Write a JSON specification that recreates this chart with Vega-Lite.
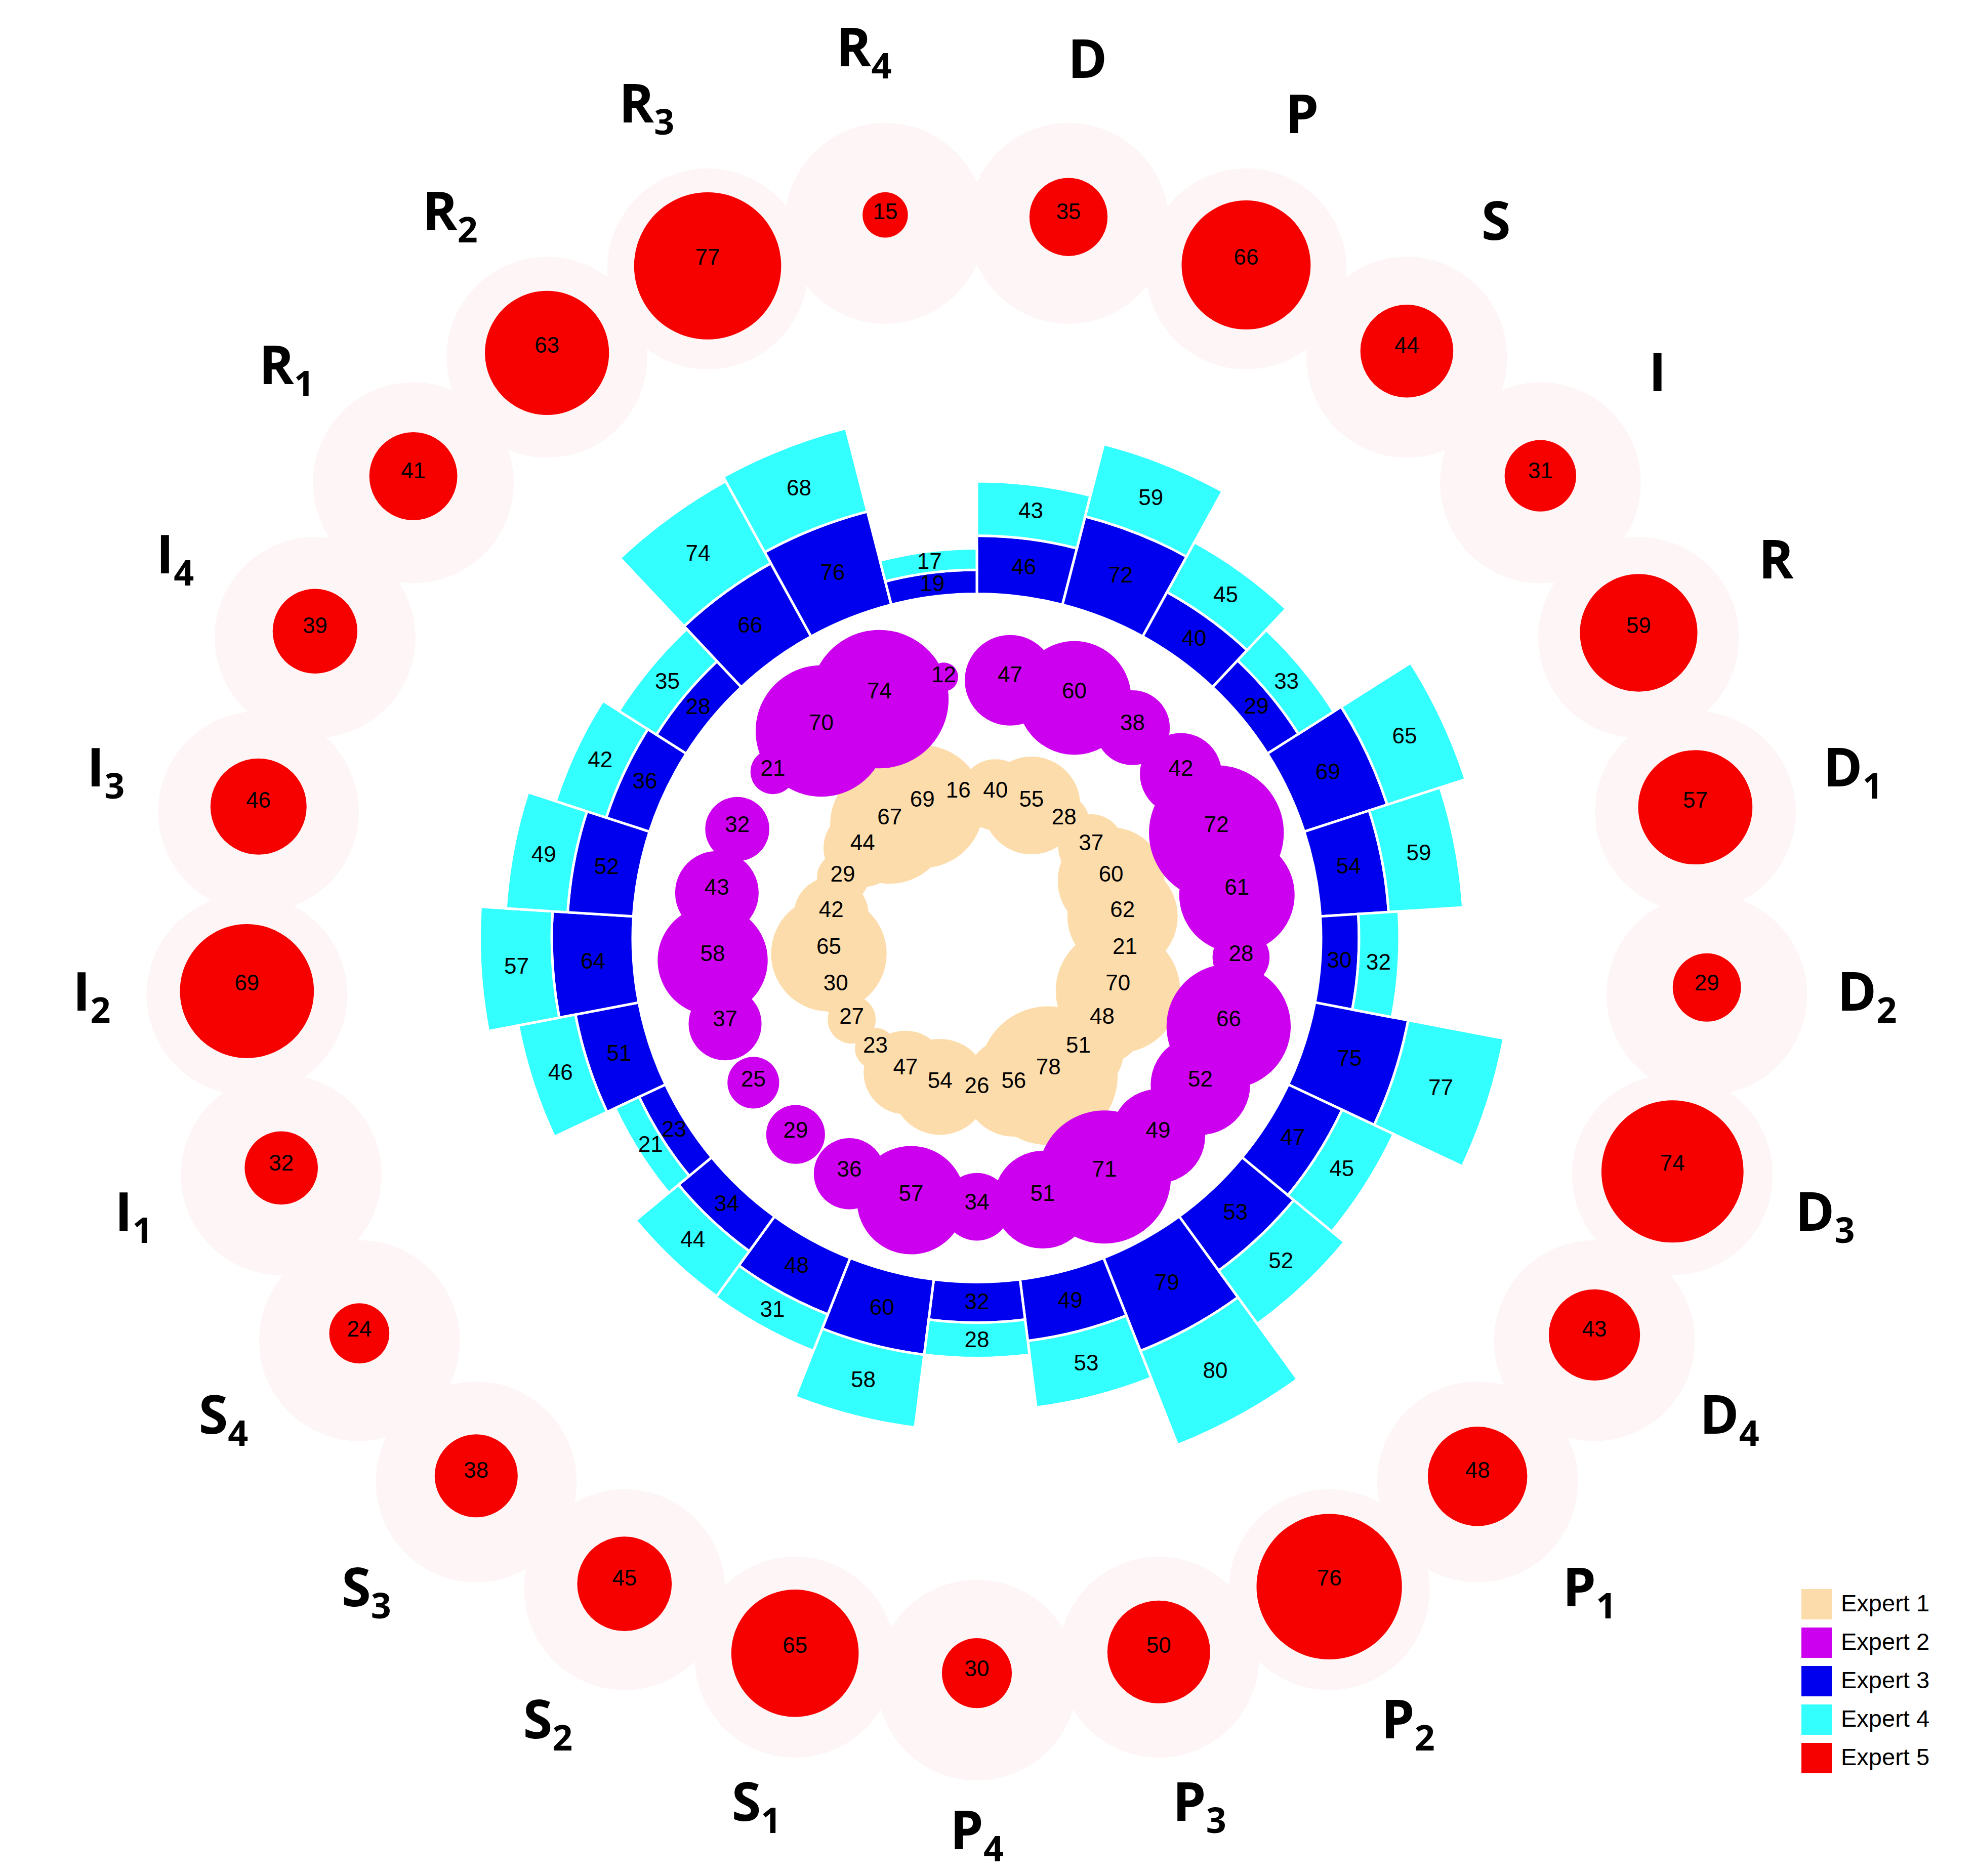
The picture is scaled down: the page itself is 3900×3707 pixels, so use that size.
{
  "$schema": "https://vega.github.io/schema/vega-lite/v6.json",
  "width": 3860,
  "height": 3707,
  "autosize": "none",
  "padding": 0,
  "background": "white",
  "config": {
    "view": {"stroke": null},
    "legend": {"orient": "none", "legendX": 3559, "legendY": 3140, "symbolType": "square", "symbolSize": 3600, "symbolStrokeWidth": 0, "symbolOpacity": 1, "labelFontSize": 47, "labelFont": "Liberation Sans", "labelColor": "black", "labelLimit": 0, "rowPadding": 16, "padding": 0, "labelOffset": 18}
  },
  "datasets": {
    "cats": [
      {"cat": "D", "letter": "D", "sub": ""}, {"cat": "P", "letter": "P", "sub": ""}, {"cat": "S", "letter": "S", "sub": ""}, {"cat": "I", "letter": "I", "sub": ""}, {"cat": "R", "letter": "R", "sub": ""},
      {"cat": "D1", "letter": "D", "sub": "1"}, {"cat": "D2", "letter": "D", "sub": "2"}, {"cat": "D3", "letter": "D", "sub": "3"}, {"cat": "D4", "letter": "D", "sub": "4"},
      {"cat": "P1", "letter": "P", "sub": "1"}, {"cat": "P2", "letter": "P", "sub": "2"}, {"cat": "P3", "letter": "P", "sub": "3"}, {"cat": "P4", "letter": "P", "sub": "4"},
      {"cat": "S1", "letter": "S", "sub": "1"}, {"cat": "S2", "letter": "S", "sub": "2"}, {"cat": "S3", "letter": "S", "sub": "3"}, {"cat": "S4", "letter": "S", "sub": "4"},
      {"cat": "I1", "letter": "I", "sub": "1"}, {"cat": "I2", "letter": "I", "sub": "2"}, {"cat": "I3", "letter": "I", "sub": "3"}, {"cat": "I4", "letter": "I", "sub": "4"},
      {"cat": "R1", "letter": "R", "sub": "1"}, {"cat": "R2", "letter": "R", "sub": "2"}, {"cat": "R3", "letter": "R", "sub": "3"}, {"cat": "R4", "letter": "R", "sub": "4"}
    ],
    "vals": [
      {"cat": "D", "expert": "Expert 1", "value": 40}, {"cat": "P", "expert": "Expert 1", "value": 55}, {"cat": "S", "expert": "Expert 1", "value": 28}, {"cat": "I", "expert": "Expert 1", "value": 37}, {"cat": "R", "expert": "Expert 1", "value": 60},
      {"cat": "D1", "expert": "Expert 1", "value": 62}, {"cat": "D2", "expert": "Expert 1", "value": 21}, {"cat": "D3", "expert": "Expert 1", "value": 70}, {"cat": "D4", "expert": "Expert 1", "value": 48},
      {"cat": "P1", "expert": "Expert 1", "value": 51}, {"cat": "P2", "expert": "Expert 1", "value": 78}, {"cat": "P3", "expert": "Expert 1", "value": 56}, {"cat": "P4", "expert": "Expert 1", "value": 26},
      {"cat": "S1", "expert": "Expert 1", "value": 54}, {"cat": "S2", "expert": "Expert 1", "value": 47}, {"cat": "S3", "expert": "Expert 1", "value": 23}, {"cat": "S4", "expert": "Expert 1", "value": 27},
      {"cat": "I1", "expert": "Expert 1", "value": 30}, {"cat": "I2", "expert": "Expert 1", "value": 65}, {"cat": "I3", "expert": "Expert 1", "value": 42}, {"cat": "I4", "expert": "Expert 1", "value": 29},
      {"cat": "R1", "expert": "Expert 1", "value": 44}, {"cat": "R2", "expert": "Expert 1", "value": 67}, {"cat": "R3", "expert": "Expert 1", "value": 69}, {"cat": "R4", "expert": "Expert 1", "value": 16},

      {"cat": "D", "expert": "Expert 2", "value": 47}, {"cat": "P", "expert": "Expert 2", "value": 60}, {"cat": "S", "expert": "Expert 2", "value": 38}, {"cat": "I", "expert": "Expert 2", "value": 42}, {"cat": "R", "expert": "Expert 2", "value": 72},
      {"cat": "D1", "expert": "Expert 2", "value": 61}, {"cat": "D2", "expert": "Expert 2", "value": 28}, {"cat": "D3", "expert": "Expert 2", "value": 66}, {"cat": "D4", "expert": "Expert 2", "value": 52},
      {"cat": "P1", "expert": "Expert 2", "value": 49}, {"cat": "P2", "expert": "Expert 2", "value": 71}, {"cat": "P3", "expert": "Expert 2", "value": 51}, {"cat": "P4", "expert": "Expert 2", "value": 34},
      {"cat": "S1", "expert": "Expert 2", "value": 57}, {"cat": "S2", "expert": "Expert 2", "value": 36}, {"cat": "S3", "expert": "Expert 2", "value": 29}, {"cat": "S4", "expert": "Expert 2", "value": 25},
      {"cat": "I1", "expert": "Expert 2", "value": 37}, {"cat": "I2", "expert": "Expert 2", "value": 58}, {"cat": "I3", "expert": "Expert 2", "value": 43}, {"cat": "I4", "expert": "Expert 2", "value": 32},
      {"cat": "R1", "expert": "Expert 2", "value": 21}, {"cat": "R2", "expert": "Expert 2", "value": 70}, {"cat": "R3", "expert": "Expert 2", "value": 74}, {"cat": "R4", "expert": "Expert 2", "value": 12},

      {"cat": "D", "expert": "Expert 3", "value": 46}, {"cat": "P", "expert": "Expert 3", "value": 72}, {"cat": "S", "expert": "Expert 3", "value": 40}, {"cat": "I", "expert": "Expert 3", "value": 29}, {"cat": "R", "expert": "Expert 3", "value": 69},
      {"cat": "D1", "expert": "Expert 3", "value": 54}, {"cat": "D2", "expert": "Expert 3", "value": 30}, {"cat": "D3", "expert": "Expert 3", "value": 75}, {"cat": "D4", "expert": "Expert 3", "value": 47},
      {"cat": "P1", "expert": "Expert 3", "value": 53}, {"cat": "P2", "expert": "Expert 3", "value": 79}, {"cat": "P3", "expert": "Expert 3", "value": 49}, {"cat": "P4", "expert": "Expert 3", "value": 32},
      {"cat": "S1", "expert": "Expert 3", "value": 60}, {"cat": "S2", "expert": "Expert 3", "value": 48}, {"cat": "S3", "expert": "Expert 3", "value": 34}, {"cat": "S4", "expert": "Expert 3", "value": 23},
      {"cat": "I1", "expert": "Expert 3", "value": 51}, {"cat": "I2", "expert": "Expert 3", "value": 64}, {"cat": "I3", "expert": "Expert 3", "value": 52}, {"cat": "I4", "expert": "Expert 3", "value": 36},
      {"cat": "R1", "expert": "Expert 3", "value": 28}, {"cat": "R2", "expert": "Expert 3", "value": 66}, {"cat": "R3", "expert": "Expert 3", "value": 76}, {"cat": "R4", "expert": "Expert 3", "value": 19},

      {"cat": "D", "expert": "Expert 4", "value": 43}, {"cat": "P", "expert": "Expert 4", "value": 59}, {"cat": "S", "expert": "Expert 4", "value": 45}, {"cat": "I", "expert": "Expert 4", "value": 33}, {"cat": "R", "expert": "Expert 4", "value": 65},
      {"cat": "D1", "expert": "Expert 4", "value": 59}, {"cat": "D2", "expert": "Expert 4", "value": 32}, {"cat": "D3", "expert": "Expert 4", "value": 77}, {"cat": "D4", "expert": "Expert 4", "value": 45},
      {"cat": "P1", "expert": "Expert 4", "value": 52}, {"cat": "P2", "expert": "Expert 4", "value": 80}, {"cat": "P3", "expert": "Expert 4", "value": 53}, {"cat": "P4", "expert": "Expert 4", "value": 28},
      {"cat": "S1", "expert": "Expert 4", "value": 58}, {"cat": "S2", "expert": "Expert 4", "value": 31}, {"cat": "S3", "expert": "Expert 4", "value": 44}, {"cat": "S4", "expert": "Expert 4", "value": 21},
      {"cat": "I1", "expert": "Expert 4", "value": 46}, {"cat": "I2", "expert": "Expert 4", "value": 57}, {"cat": "I3", "expert": "Expert 4", "value": 49}, {"cat": "I4", "expert": "Expert 4", "value": 42},
      {"cat": "R1", "expert": "Expert 4", "value": 35}, {"cat": "R2", "expert": "Expert 4", "value": 74}, {"cat": "R3", "expert": "Expert 4", "value": 68}, {"cat": "R4", "expert": "Expert 4", "value": 17},

      {"cat": "D", "expert": "Expert 5", "value": 35}, {"cat": "P", "expert": "Expert 5", "value": 66}, {"cat": "S", "expert": "Expert 5", "value": 44}, {"cat": "I", "expert": "Expert 5", "value": 31}, {"cat": "R", "expert": "Expert 5", "value": 59},
      {"cat": "D1", "expert": "Expert 5", "value": 57}, {"cat": "D2", "expert": "Expert 5", "value": 29}, {"cat": "D3", "expert": "Expert 5", "value": 74}, {"cat": "D4", "expert": "Expert 5", "value": 43},
      {"cat": "P1", "expert": "Expert 5", "value": 48}, {"cat": "P2", "expert": "Expert 5", "value": 76}, {"cat": "P3", "expert": "Expert 5", "value": 50}, {"cat": "P4", "expert": "Expert 5", "value": 30},
      {"cat": "S1", "expert": "Expert 5", "value": 65}, {"cat": "S2", "expert": "Expert 5", "value": 45}, {"cat": "S3", "expert": "Expert 5", "value": 38}, {"cat": "S4", "expert": "Expert 5", "value": 24},
      {"cat": "I1", "expert": "Expert 5", "value": 32}, {"cat": "I2", "expert": "Expert 5", "value": 69}, {"cat": "I3", "expert": "Expert 5", "value": 46}, {"cat": "I4", "expert": "Expert 5", "value": 39},
      {"cat": "R1", "expert": "Expert 5", "value": 41}, {"cat": "R2", "expert": "Expert 5", "value": 63}, {"cat": "R3", "expert": "Expert 5", "value": 77}, {"cat": "R4", "expert": "Expert 5", "value": 15}
    ]
  },
  "resolve": {"scale": {"size": "independent"}},
  "layer": [
    {
      "data": {"name": "vals"},
      "transform": [{"filter": "datum.expert == 'Expert 5'"}],
      "mark": {"type": "text", "text": "●", "radius": 1445, "fontSize": 520, "font": "DejaVu Sans", "fill": "#fef6f6", "align": "center", "baseline": "middle"},
      "encoding": {
        "theta": {"field": "cat", "type": "nominal", "bandPosition": 0.5, "scale": {"type": "band", "domain": ["D","P","S","I","R","D1","D2","D3","D4","P1","P2","P3","P4","S1","S2","S3","S4","I1","I2","I3","I4","R1","R2","R3","R4"], "range": [0, 6.283185307179586], "paddingInner": 0, "paddingOuter": 0}}
      }
    },
    {
      "data": {"name": "vals"},
      "transform": [{"filter": "datum.expert == 'Expert 5'"}],
      "mark": {"type": "text", "text": "●", "radius": 1445, "font": "DejaVu Sans", "align": "center", "baseline": "middle"},
      "encoding": {
        "theta": {"field": "cat", "type": "nominal", "bandPosition": 0.5, "scale": {"type": "band", "domain": ["D","P","S","I","R","D1","D2","D3","D4","P1","P2","P3","P4","S1","S2","S3","S4","I1","I2","I3","I4","R1","R2","R3","R4"], "range": [0, 6.283185307179586], "paddingInner": 0, "paddingOuter": 0}},
        "color": {"field": "expert", "type": "nominal", "title": null, "scale": {"domain": ["Expert 1","Expert 2","Expert 3","Expert 4","Expert 5"], "range": ["#fcdcaa","#cc00ee","#0000ee","#33ffff","#f70000"]}},
        "size": {"field": "value", "type": "quantitative", "legend": null, "scale": {"type": "linear", "domain": [0, 100], "range": [53.6, 478.4]}}
      }
    },
    {
      "data": {"name": "vals"},
      "transform": [{"filter": "datum.expert == 'Expert 1'"}],
      "mark": {"type": "text", "text": "●", "radius": 293, "font": "DejaVu Sans", "align": "center", "baseline": "middle"},
      "encoding": {
        "theta": {"field": "cat", "type": "nominal", "bandPosition": 0.5, "scale": {"type": "band", "domain": ["D","P","S","I","R","D1","D2","D3","D4","P1","P2","P3","P4","S1","S2","S3","S4","I1","I2","I3","I4","R1","R2","R3","R4"], "range": [0, 6.283185307179586], "paddingInner": 0, "paddingOuter": 0}},
        "color": {"field": "expert", "type": "nominal", "title": null, "scale": {"domain": ["Expert 1","Expert 2","Expert 3","Expert 4","Expert 5"], "range": ["#fcdcaa","#cc00ee","#0000ee","#33ffff","#f70000"]}},
        "size": {"field": "value", "type": "quantitative", "legend": null, "scale": {"type": "linear", "domain": [0, 100], "range": [0, 460]}}
      }
    },
    {
      "data": {"name": "vals"},
      "transform": [{"filter": "datum.expert == 'Expert 2'"}],
      "mark": {"type": "text", "text": "●", "radius": 523, "font": "DejaVu Sans", "align": "center", "baseline": "middle"},
      "encoding": {
        "theta": {"field": "cat", "type": "nominal", "bandPosition": 0.5, "scale": {"type": "band", "domain": ["D","P","S","I","R","D1","D2","D3","D4","P1","P2","P3","P4","S1","S2","S3","S4","I1","I2","I3","I4","R1","R2","R3","R4"], "range": [0, 6.283185307179586], "paddingInner": 0, "paddingOuter": 0}},
        "color": {"field": "expert", "type": "nominal", "title": null, "scale": {"domain": ["Expert 1","Expert 2","Expert 3","Expert 4","Expert 5"], "range": ["#fcdcaa","#cc00ee","#0000ee","#33ffff","#f70000"]}},
        "size": {"field": "value", "type": "quantitative", "legend": null, "scale": {"type": "linear", "domain": [0, 100], "range": [19.6, 477]}}
      }
    },
    {
      "data": {"name": "vals"},
      "transform": [{"filter": "datum.expert == 'Expert 3' || datum.expert == 'Expert 4'"}],
      "mark": {"type": "arc", "stroke": "white", "strokeWidth": 5},
      "encoding": {
        "theta": {"field": "cat", "type": "nominal", "scale": {"type": "band", "domain": ["D","P","S","I","R","D1","D2","D3","D4","P1","P2","P3","P4","S1","S2","S3","S4","I1","I2","I3","I4","R1","R2","R3","R4"], "range": [0, 6.283185307179586], "paddingInner": 0, "paddingOuter": 0}},
        "radius": {"field": "value", "type": "quantitative", "stack": "zero", "scale": {"type": "linear", "domain": [0, 200], "range": [680, 1180]}},
        "color": {"field": "expert", "type": "nominal", "title": null, "scale": {"domain": ["Expert 1","Expert 2","Expert 3","Expert 4","Expert 5"], "range": ["#fcdcaa","#cc00ee","#0000ee","#33ffff","#f70000"]}},
        "order": {"field": "expert", "type": "nominal", "sort": "ascending"}
      }
    },
    {
      "data": {"name": "vals"},
      "transform": [{"filter": "datum.expert == 'Expert 3' || datum.expert == 'Expert 4'"}],
      "mark": {"type": "text", "font": "Liberation Sans", "fontSize": 44, "fill": "black", "align": "center", "baseline": "middle"},
      "encoding": {
        "theta": {"field": "cat", "type": "nominal", "bandPosition": 0.5, "scale": {"type": "band", "domain": ["D","P","S","I","R","D1","D2","D3","D4","P1","P2","P3","P4","S1","S2","S3","S4","I1","I2","I3","I4","R1","R2","R3","R4"], "range": [0, 6.283185307179586], "paddingInner": 0, "paddingOuter": 0}},
        "radius": {"field": "value", "type": "quantitative", "stack": "zero", "scale": {"type": "linear", "domain": [0, 200], "range": [680, 1180]}},
        "detail": {"field": "expert", "type": "nominal"},
        "order": {"field": "expert", "type": "nominal", "sort": "ascending"},
        "text": {"field": "value", "type": "quantitative"}
      }
    },
    {
      "data": {"name": "vals"},
      "transform": [{"filter": "datum.expert == 'Expert 5'"}],
      "mark": {"type": "text", "radius": 1445, "font": "Liberation Sans", "fontSize": 44, "fill": "black", "align": "center", "baseline": "middle"},
      "encoding": {
        "theta": {"field": "cat", "type": "nominal", "bandPosition": 0.5, "scale": {"type": "band", "domain": ["D","P","S","I","R","D1","D2","D3","D4","P1","P2","P3","P4","S1","S2","S3","S4","I1","I2","I3","I4","R1","R2","R3","R4"], "range": [0, 6.283185307179586], "paddingInner": 0, "paddingOuter": 0}},
        "text": {"field": "value", "type": "quantitative"}
      }
    },
    {
      "data": {"name": "vals"},
      "transform": [{"filter": "datum.expert == 'Expert 2'"}],
      "mark": {"type": "text", "radius": 523, "font": "Liberation Sans", "fontSize": 44, "fill": "black", "align": "center", "baseline": "middle"},
      "encoding": {
        "theta": {"field": "cat", "type": "nominal", "bandPosition": 0.5, "scale": {"type": "band", "domain": ["D","P","S","I","R","D1","D2","D3","D4","P1","P2","P3","P4","S1","S2","S3","S4","I1","I2","I3","I4","R1","R2","R3","R4"], "range": [0, 6.283185307179586], "paddingInner": 0, "paddingOuter": 0}},
        "text": {"field": "value", "type": "quantitative"}
      }
    },
    {
      "data": {"name": "vals"},
      "transform": [{"filter": "datum.expert == 'Expert 1'"}],
      "mark": {"type": "text", "radius": 293, "font": "Liberation Sans", "fontSize": 44, "fill": "black", "align": "center", "baseline": "middle"},
      "encoding": {
        "theta": {"field": "cat", "type": "nominal", "bandPosition": 0.5, "scale": {"type": "band", "domain": ["D","P","S","I","R","D1","D2","D3","D4","P1","P2","P3","P4","S1","S2","S3","S4","I1","I2","I3","I4","R1","R2","R3","R4"], "range": [0, 6.283185307179586], "paddingInner": 0, "paddingOuter": 0}},
        "text": {"field": "value", "type": "quantitative"}
      }
    },
    {
      "data": {"name": "cats"},
      "transform": [{"filter": "datum.sub == ''"}],
      "mark": {"type": "text", "radius": 1745, "font": "Open Sans", "fontWeight": "bold", "fontSize": 105, "fill": "black", "align": "center", "baseline": "middle"},
      "encoding": {
        "theta": {"field": "cat", "type": "nominal", "bandPosition": 0.5, "scale": {"type": "band", "domain": ["D","P","S","I","R","D1","D2","D3","D4","P1","P2","P3","P4","S1","S2","S3","S4","I1","I2","I3","I4","R1","R2","R3","R4"], "range": [0, 6.283185307179586], "paddingInner": 0, "paddingOuter": 0}},
        "text": {"field": "letter", "type": "nominal"}
      }
    },
    {
      "data": {"name": "cats"},
      "transform": [{"filter": "datum.sub != ''"}],
      "mark": {"type": "text", "radius": 1768, "font": "Open Sans", "fontWeight": "bold", "fontSize": 105, "fill": "black", "align": "right", "dx": 13, "baseline": "middle"},
      "encoding": {
        "theta": {"field": "cat", "type": "nominal", "bandPosition": 0.5, "scale": {"type": "band", "domain": ["D","P","S","I","R","D1","D2","D3","D4","P1","P2","P3","P4","S1","S2","S3","S4","I1","I2","I3","I4","R1","R2","R3","R4"], "range": [0, 6.283185307179586], "paddingInner": 0, "paddingOuter": 0}},
        "text": {"field": "letter", "type": "nominal"}
      }
    },
    {
      "data": {"name": "cats"},
      "transform": [{"filter": "datum.sub != ''"}],
      "mark": {"type": "text", "radius": 1768, "font": "Open Sans", "fontWeight": "bold", "fontSize": 70, "fill": "black", "align": "left", "dx": 13, "dy": 35, "baseline": "middle"},
      "encoding": {
        "theta": {"field": "cat", "type": "nominal", "bandPosition": 0.5, "scale": {"type": "band", "domain": ["D","P","S","I","R","D1","D2","D3","D4","P1","P2","P3","P4","S1","S2","S3","S4","I1","I2","I3","I4","R1","R2","R3","R4"], "range": [0, 6.283185307179586], "paddingInner": 0, "paddingOuter": 0}},
        "text": {"field": "sub", "type": "nominal"}
      }
    }
  ]
}
